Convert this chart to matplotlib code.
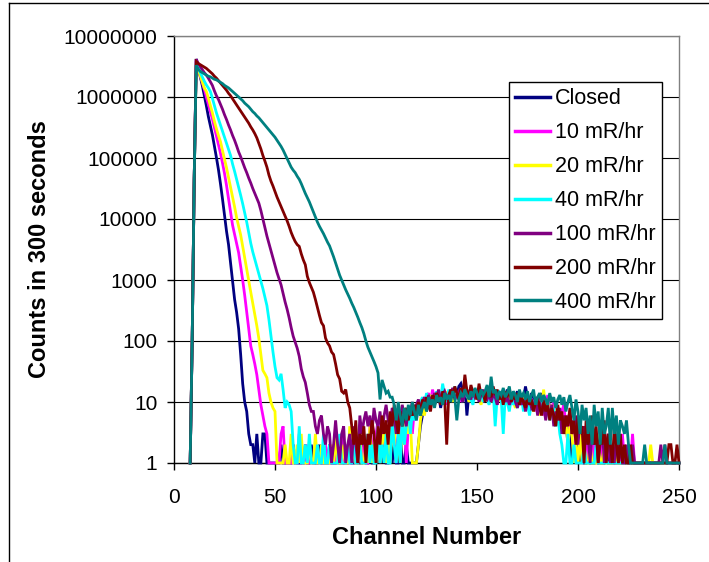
import numpy as np
import matplotlib
matplotlib.use('Agg')
import matplotlib.pyplot as plt
from matplotlib.lines import Line2D
from matplotlib.ticker import NullLocator

plt.rcParams['font.family'] = ['Liberation Sans', 'DejaVu Sans']

# ---------------- data (counts per channel, starting at channel 8) ----------------
first_channel = 8

closed = [
    1, 100, 45000, 4200000, 2950000, 2140000, 1550000, 1070000, 724000, 479000,
    339000, 240000, 158000, 102000, 64600, 38000, 21400, 11500, 6300, 3800,
    1900, 930, 480, 295, 158, 60, 20, 10, 7, 3,
    2, 2, 1, 3, 1, 1, 3, 3, 1, 1,
    1, 1, 1, 1, 1, 2, 1, 1, 1, 1,
    1, 2, 1, 1, 1, 1, 1, 2, 1, 1,
    2, 1, 1, 1, 2, 1, 1, 1, 1, 2,
    1, 1, 1, 2, 1, 1, 1, 1, 1, 2,
    1, 1, 2, 1, 1, 1, 3, 1, 1, 2,
    1, 1, 3, 1, 2, 1, 4, 1, 1, 3,
    1, 2, 1, 1, 4, 1, 1, 2, 1, 1,
    1, 1, 1, 2, 4, 6, 8, 7, 10, 9,
    12, 9, 11, 13, 8, 12, 15, 11, 13, 14,
    10, 16, 12, 18, 20, 15, 19, 6, 14, 17,
    12, 15, 11, 16, 13, 10, 14, 12, 17, 11,
    13, 10, 15, 12, 14, 9, 12, 16, 11, 13,
    10, 12, 15, 9, 13, 11, 18, 12, 10, 14,
    9, 12, 8, 11, 14, 7, 10, 12, 8, 6,
    9, 5, 7, 4, 6, 3, 5, 2, 3, 1,
    2, 1, 3, 1, 2, 1, 1, 2, 1, 1,
    1, 2, 1, 1, 1, 1, 2, 1, 1, 1,
    1, 1, 1, 1, 1, 1, 1, 1, 1, 1,
    1, 1, 1, 1, 1, 1, 1, 1, 1, 1,
    1, 1, 1, 1, 1, 1, 1, 1, 1, 1,
    1, 1, 1,
]

mr10 = [
    1, 100, 45000, 3980000, 3020000, 2290000, 1740000, 1350000, 1000000, 759000,
    575000, 437000, 316000, 229000, 166000, 120000, 83000, 56000, 35500, 21400,
    12600, 7900, 5600, 4000, 2800, 1660, 1000, 560, 300, 158,
    83, 60, 42, 28, 16, 9, 6, 4, 3, 1,
    1, 1, 1, 1, 1, 3, 4, 1, 1, 1,
    1, 2, 1, 1, 3, 1, 1, 1, 2, 1,
    1, 1, 2, 1, 1, 1, 1, 2, 1, 1,
    1, 2, 1, 1, 1, 3, 1, 1, 2, 1,
    1, 2, 1, 1, 3, 1, 2, 1, 1, 4,
    2, 1, 3, 5, 1, 2, 4, 1, 3, 6,
    2, 4, 1, 3, 5, 2, 6, 1, 4, 7,
    3, 8, 5, 9, 6, 11, 8, 12, 14, 10,
    16, 11, 13, 12, 10, 15, 12, 9, 14, 13,
    11, 17, 12, 15, 10, 14, 16, 13, 12, 15,
    14, 11, 13, 16, 12, 10, 15, 13, 11, 14,
    12, 15, 9, 13, 11, 14, 10, 12, 13, 9,
    12, 10, 13, 11, 9, 14, 10, 12, 8, 11,
    10, 7, 12, 9, 11, 6, 9, 13, 7, 8,
    10, 6, 8, 5, 7, 9, 4, 6, 3, 5,
    4, 2, 5, 3, 2, 4, 1, 3, 2, 1,
    3, 1, 2, 4, 1, 2, 1, 3, 1, 2,
    1, 1, 2, 1, 3, 1, 1, 2, 1, 3,
    1, 1, 1, 1, 1, 1, 1, 1, 1, 1,
    1, 1, 1, 1, 1, 1, 1, 1, 1, 1,
    1, 1, 1,
]

mr20 = [
    1, 100, 45000, 3550000, 2820000, 2240000, 1780000, 1410000, 1230000, 955000,
    724000, 550000, 398000, 302000, 234000, 186000, 132000, 95500, 69200, 47900,
    33100, 22900, 15800, 10500, 7600, 5500, 3550, 2290, 1450, 955,
    631, 417, 275, 178, 110, 60, 33, 29, 25, 14,
    10, 8, 7, 1, 1, 1, 1, 2, 1, 1,
    3, 1, 1, 2, 1, 3, 1, 1, 1, 2,
    1, 1, 3, 1, 1, 2, 1, 1, 1, 1,
    2, 1, 3, 1, 1, 1, 2, 1, 1, 4,
    1, 2, 1, 1, 3, 1, 1, 2, 1, 4,
    1, 2, 1, 3, 1, 2, 5, 1, 3, 1,
    4, 2, 6, 3, 1, 4, 2, 6, 3, 5,
    1, 1, 1, 2, 5, 8, 6, 10, 9, 13,
    11, 9, 14, 12, 10, 13, 11, 15, 12, 14,
    10, 16, 13, 11, 15, 12, 17, 14, 10, 13,
    16, 11, 14, 12, 9, 13, 11, 15, 12, 10,
    14, 8, 12, 11, 13, 10, 12, 9, 14, 11,
    10, 8, 12, 9, 11, 10, 13, 8, 12, 9,
    7, 10, 11, 6, 9, 16, 8, 10, 6, 9,
    5, 7, 8, 4, 6, 3, 5, 2, 4, 3,
    1, 2, 1, 3, 1, 2, 1, 1, 2, 1,
    1, 1, 3, 1, 1, 2, 1, 1, 1, 1,
    2, 1, 1, 1, 1, 1, 1, 1, 1, 1,
    1, 1, 1, 1, 1, 1, 1, 1, 2, 1,
    1, 1, 1, 1, 1, 1, 1, 1, 1, 1,
    1, 1, 1,
]

mr40 = [
    1, 100, 45000, 3550000, 2950000, 2510000, 2140000, 1820000, 1580000, 1410000,
    1230000, 955000, 724000, 550000, 437000, 347000, 275000, 219000, 174000, 138000,
    110000, 79400, 60300, 44700, 33100, 24500, 17800, 12600, 8900, 6000,
    4000, 2880, 2190, 1660, 1260, 977, 724, 525, 380, 224,
    120, 66, 38, 25, 23, 29, 16, 8, 10, 9,
    7, 2, 1, 1, 4, 1, 1, 2, 1, 3,
    1, 1, 1, 2, 1, 1, 3, 1, 1, 2,
    1, 1, 1, 1, 3, 1, 1, 1, 2, 1,
    1, 3, 1, 1, 2, 1, 1, 1, 3, 1,
    2, 1, 1, 4, 1, 2, 1, 3, 1, 1,
    5, 2, 1, 3, 1, 6, 2, 4, 8, 3,
    7, 5, 9, 6, 10, 12, 9, 14, 11, 8,
    13, 10, 15, 12, 11, 20, 13, 10, 16, 12,
    14, 18, 11, 15, 13, 10, 17, 12, 14, 11,
    9, 15, 13, 12, 16, 10, 14, 11, 9, 13,
    15, 4, 12, 14, 11, 3, 13, 10, 7, 12,
    9, 11, 8, 10, 12, 7, 11, 9, 6, 10,
    8, 11, 9, 7, 10, 8, 6, 9, 5, 7,
    8, 4, 6, 3, 2, 1, 1, 3, 1, 1,
    2, 1, 1, 1, 1, 2, 1, 1, 1, 1,
    1, 2, 1, 1, 1, 1, 1, 1, 1, 1,
    1, 1, 1, 1, 1, 1, 1, 1, 1, 1,
    1, 1, 1, 1, 1, 1, 1, 1, 1, 1,
    1, 1, 1, 1, 1, 1, 1, 1, 1, 1,
    1, 1, 1,
]

mr100 = [
    1, 100, 45000, 4170000, 3550000, 3160000, 2820000, 2510000, 2290000, 2040000,
    1780000, 1550000, 1260000, 1050000, 912000, 759000, 631000, 513000, 427000, 347000,
    288000, 234000, 195000, 158000, 126000, 105000, 85100, 69200, 57500, 46800,
    38900, 31600, 26300, 21900, 18200, 13800, 10000, 7240, 5250, 3980,
    3020, 2290, 1740, 1320, 1050, 832, 603, 437, 331, 240,
    166, 120, 95, 76, 56, 35, 26, 21, 14, 9,
    7, 7, 4, 3, 5, 6, 3, 2, 4, 3,
    1, 2, 5, 2, 1, 3, 4, 1, 2, 3,
    1, 4, 2, 1, 6, 3, 5, 7, 4, 6,
    3, 8, 5, 4, 7, 3, 6, 9, 5, 4,
    8, 6, 3, 7, 5, 9, 6, 4, 8, 7,
    10, 6, 9, 11, 8, 10, 12, 9, 13, 11,
    10, 14, 12, 16, 11, 13, 15, 12, 10, 14,
    17, 11, 13, 15, 12, 10, 14, 16, 13, 11,
    15, 12, 14, 10, 13, 16, 12, 11, 14, 10,
    13, 12, 9, 14, 11, 13, 10, 12, 9, 11,
    14, 10, 8, 12, 9, 11, 7, 10, 12, 8,
    9, 11, 6, 10, 7, 9, 5, 8, 6, 9,
    4, 7, 5, 8, 3, 6, 4, 5, 7, 3,
    4, 6, 2, 5, 3, 4, 2, 3, 1, 4,
    2, 3, 1, 2, 4, 1, 2, 3, 1, 2,
    1, 3, 1, 2, 1, 1, 2, 1, 1, 2,
    1, 1, 1, 1, 1, 1, 1, 1, 1, 1,
    1, 1, 1, 2, 1, 2, 1, 1, 1, 1,
    1, 1, 1,
]

mr200 = [
    1, 100, 45000, 3800000, 3550000, 3390000, 3240000, 3090000, 2950000, 2750000,
    2570000, 2400000, 2190000, 2040000, 1860000, 1700000, 1550000, 1410000, 1290000, 1150000,
    1050000, 933000, 832000, 741000, 661000, 589000, 525000, 468000, 417000, 372000,
    324000, 288000, 251000, 214000, 174000, 141000, 110000, 89100, 70800, 52500,
    41700, 34700, 28200, 22900, 19100, 15800, 13200, 11000, 9330, 7590,
    6030, 5010, 4270, 3800, 3550, 2690, 2140, 1780, 1150, 912,
    759, 631, 479, 355, 263, 200, 178, 112, 93, 83,
    66, 60, 42, 28, 24, 15, 14, 16, 10, 8,
    4, 2, 5, 1, 3, 2, 4, 1, 3, 2,
    5, 3, 1, 4, 2, 6, 3, 5, 2, 7,
    4, 9, 5, 3, 7, 4, 6, 8, 5, 7,
    6, 9, 7, 10, 6, 11, 8, 12, 9, 7,
    13, 10, 14, 12, 9, 15, 11, 2, 13, 16,
    12, 18, 14, 11, 17, 13, 28, 15, 12, 19,
    14, 16, 11, 20, 13, 15, 10, 17, 14, 12,
    18, 13, 16, 11, 14, 9, 15, 12, 17, 10,
    13, 11, 14, 9, 12, 10, 8, 13, 9, 11,
    7, 10, 12, 8, 6, 11, 7, 9, 5, 8,
    6, 4, 9, 5, 7, 3, 6, 4, 8, 3,
    5, 2, 6, 3, 4, 1, 5, 2, 3, 6,
    2, 4, 1, 3, 2, 5, 1, 3, 2, 1,
    4, 2, 1, 3, 1, 2, 1, 1, 2, 1,
    1, 1, 1, 1, 1, 1, 1, 1, 1, 1,
    1, 1, 1, 1, 1, 1, 1, 2, 2, 1,
    1, 2, 1,
]

mr400 = [
    1, 100, 45000, 3310000, 2880000, 2630000, 2510000, 2400000, 2290000, 2190000,
    2140000, 2040000, 1950000, 1910000, 1820000, 1740000, 1660000, 1550000, 1480000, 1410000,
    1320000, 1230000, 1150000, 1070000, 1000000, 933000, 871000, 794000, 741000, 692000,
    631000, 575000, 537000, 490000, 457000, 417000, 380000, 347000, 316000, 288000,
    263000, 240000, 219000, 195000, 174000, 155000, 135000, 115000, 97700, 83200,
    70800, 63100, 57500, 50100, 44700, 38000, 31600, 26300, 22400, 19100,
    15800, 13200, 10700, 8910, 7590, 6610, 5750, 4900, 4170, 3630,
    2950, 2400, 1910, 1510, 1200, 1000, 832, 692, 589, 501,
    417, 355, 295, 245, 200, 166, 132, 100, 79, 66,
    55, 46, 38, 30, 11, 23, 18, 14, 15, 12,
    12, 9, 5, 10, 6, 4, 8, 5, 9, 6,
    10, 7, 5, 9, 6, 8, 10, 7, 12, 9,
    11, 8, 13, 10, 12, 9, 14, 11, 13, 10,
    15, 12, 5, 11, 14, 12, 16, 13, 11, 15,
    12, 17, 14, 11, 16, 13, 15, 19, 12, 26,
    14, 16, 11, 15, 13, 17, 12, 14, 18, 11,
    15, 13, 10, 16, 12, 14, 11, 15, 10, 13,
    16, 9, 12, 14, 10, 13, 11, 9, 14, 10,
    12, 8, 11, 13, 9, 12, 7, 10, 13, 8,
    5, 11, 7, 3, 9, 5, 8, 3, 6, 2,
    9, 4, 7, 2, 8, 3, 4, 8, 2, 8,
    3, 6, 2, 5, 4, 3, 5, 2, 1, 1,
    1, 1, 1, 1, 1, 2, 1, 1, 1, 1,
    1, 1, 1, 1, 1, 2, 1, 1, 1, 1,
    1, 1, 1,
]

series_values = [closed, mr10, mr20, mr40, mr100, mr200, mr400]
series_labels = ['Closed', '10 mR/hr', '20 mR/hr', '40 mR/hr',
                 '100 mR/hr', '200 mR/hr', '400 mR/hr']
series_colors = ['#000080', '#FF00FF', '#FFFF00', '#00FFFF',
                 '#800080', '#800000', '#008080']

x_ticks = [0, 50, 100, 150, 200, 250]
x_tick_labels = ['0', '50', '100', '150', '200', '250']
y_ticks = [1, 10, 100, 1000, 10000, 100000, 1000000, 10000000]
y_tick_labels = ['1', '10', '100', '1000', '10000', '100000', '1000000', '10000000']

# ---------------- figure ----------------
W, H = 709, 562
fig = plt.figure(figsize=(W / 100, H / 100), dpi=100)
fig.patch.set_facecolor('white')

ax_l, ax_r, ax_t, ax_b = 174, 679, 36, 463
ax = fig.add_axes([ax_l / W, 1 - ax_b / H, (ax_r - ax_l) / W, (ax_b - ax_t) / H])

for vals, lab, col in zip(series_values, series_labels, series_colors):
    ch = np.arange(first_channel, first_channel + len(vals))
    ax.plot(ch, vals, color=col, lw=2.0, label=lab, clip_on=False,
            solid_joinstyle='miter', zorder=3)

ax.set_yscale('log')
ax.set_ylim(1, 1e7)
ax.set_xlim(0, 250)
ax.set_yticks(y_ticks)
ax.set_yticklabels(y_tick_labels)
ax.yaxis.set_minor_locator(NullLocator())
ax.set_xticks(x_ticks)
ax.set_xticklabels(x_tick_labels)

ax.set_axisbelow(True)
ax.grid(axis='y', which='major', color='black', lw=0.8)
ax.grid(axis='x', visible=False)

for side in ['left', 'bottom']:
    ax.spines[side].set_color('black')
    ax.spines[side].set_linewidth(1.0)
for side in ['top', 'right']:
    ax.spines[side].set_color('#808080')
    ax.spines[side].set_linewidth(1.0)

ax.tick_params(axis='both', direction='out', length=5, width=1, colors='black',
               labelsize=15)
ax.tick_params(axis='y', pad=7)
ax.tick_params(axis='x', pad=13)

ax.set_xlabel('Channel Number', fontsize=17, fontweight='bold', labelpad=14)
ax.set_ylabel('Counts in 300 seconds', fontsize=17, fontweight='bold', labelpad=9)

leg = ax.legend(loc='upper left', bbox_to_anchor=(509 / W, 1 - 82 / H),
                bbox_transform=fig.transFigure, borderaxespad=0,
                fontsize=15.5, frameon=True, fancybox=False, shadow=False,
                framealpha=1, edgecolor='black', handlelength=1.6,
                handletextpad=0.22, labelspacing=0.6, borderpad=0.3)
leg.get_frame().set_linewidth(1.0)
for h in leg.get_lines():
    h.set_linewidth(2.5)

# outer chart frame
fig.add_artist(Line2D([9 / W, 1.0], [1 - 3 / H, 1 - 3 / H], color='black', lw=1.0))
fig.add_artist(Line2D([9 / W, 9 / W], [0.0, 1 - 3 / H], color='black', lw=1.0))

fig.savefig('out.png', dpi=100, facecolor='white')
